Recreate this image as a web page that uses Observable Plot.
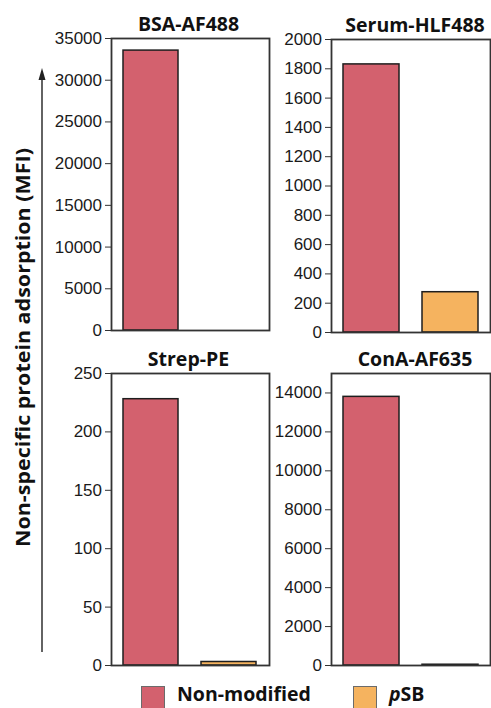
<!DOCTYPE html>
<html>
<head>
<meta charset="utf-8">
<script src="https://cdn.jsdelivr.net/npm/d3@7"></script>
<script src="https://cdn.jsdelivr.net/npm/@observablehq/plot@0.6"></script>
<style>
  html, body { margin: 0; padding: 0; background: #fff; }
  #chart { position: relative; width: 491px; height: 708px; overflow: hidden; background: #fff; }
  .panel { position: absolute; }
  .legend { position: absolute; font-family: "Open Sans", sans-serif; font-weight: 700; font-size: 19.5px; color: #111; white-space: nowrap; }
  .swatch { position: absolute; width: 24px; height: 24px; box-sizing: border-box; border: 1.5px solid #6b6b6b; }
</style>
</head>
<body>
<div id="chart"></div>
<script>
// Surfaces compared in each panel
const surfaces = ["Non-modified", "pSB"];
const surfaceColors = ["#d3616e", "#f5b35f"];

// Proteins (one panel each) and mean fluorescence intensity per surface
const proteins = ["BSA-AF488", "Serum-HLF488", "Strep-PE", "ConA-AF635"];
const nonModified = [33550, 1830, 228, 13800];
const pSB = [0, 275, 3, 40];

// Y axis extents and tick labels per panel
const yMax = [35000, 2000, 250, 15000];
const yTicks = [
  [0, 5000, 10000, 15000, 20000, 25000, 30000, 35000],
  [0, 200, 400, 600, 800, 1000, 1200, 1400, 1600, 1800, 2000],
  [0, 50, 100, 150, 200, 250],
  [0, 2000, 4000, 6000, 8000, 10000, 12000, 14000]
];

const chart = document.getElementById("chart");

// Panel placement: plot-area box in page pixels, title nudge
const layout = [
  {left: 111, right: 269, top: 38, bottom: 330, dx: -2},
  {left: 331, right: 490, top: 39, bottom: 332, dx: 4},
  {left: 111, right: 269, top: 373, bottom: 665, dx: -2},
  {left: 331, right: 490, top: 373, bottom: 665, dx: 4}
];

const mL = 70, mR = 1, mT = 40, mB = 6;

proteins.forEach((protein, i) => {
  const box = layout[i];
  const rows = surfaces.map((s, j) => ({surface: s, value: j === 0 ? nonModified[i] : pSB[i]}));
  const plot = Plot.plot({
    width: mL + (box.right - box.left) + mR,
    height: mT + (box.bottom - box.top) + mB,
    marginLeft: mL, marginRight: mR, marginTop: mT, marginBottom: mB,
    style: {background: "transparent", overflow: "visible"},
    x: {type: "band", domain: surfaces, paddingInner: 0.29, paddingOuter: 0.15, axis: null},
    y: {domain: [0, yMax[i]], axis: null},
    color: {domain: surfaces, range: surfaceColors},
    marks: [
      Plot.barY(rows, {x: "surface", y: "value", fill: "surface", stroke: "#1e1e1e", strokeWidth: 1.5}),
      Plot.axisY({
        ticks: yTicks[i], tickSize: 6, tickPadding: 3.5, tickFormat: d => String(d), label: null,
        stroke: "#333", fill: "#1a1a1a",
        fontFamily: "'Liberation Sans Narrow', 'Arial Narrow', sans-serif", fontSize: 17
      }),
      Plot.frame({stroke: "#333", strokeWidth: 1.8}),
      Plot.text([protein], {
        frameAnchor: "top", dy: -8, dx: box.dx, lineAnchor: "bottom", text: d => d,
        fontFamily: "'Open Sans', sans-serif", fontWeight: 700, fontSize: 19.5, fill: "#111"
      })
    ]
  });
  const wrap = document.createElement("div");
  wrap.className = "panel";
  wrap.style.left = (box.left - mL) + "px";
  wrap.style.top = (box.top - mT) + "px";
  wrap.appendChild(plot);
  chart.appendChild(wrap);
});

// Shared y-axis title with upward arrow
const ns = "http://www.w3.org/2000/svg";
const side = document.createElementNS(ns, "svg");
side.setAttribute("width", 60);
side.setAttribute("height", 708);
side.style.position = "absolute";
side.style.left = "0px";
side.style.top = "0px";
side.innerHTML = `
  <text transform="translate(29.5,347.5) rotate(-90)" text-anchor="middle" textLength="399" lengthAdjust="spacingAndGlyphs"
        font-family="'Open Sans', sans-serif" font-weight="700" font-size="19.5" fill="#111">Non-specific protein adsorption (MFI)</text>
  <line x1="42" x2="42" y1="652" y2="76" stroke="#222" stroke-width="1.4"></line>
  <polygon points="42,68 38.5,80 45.5,80" fill="#222"></polygon>`;
chart.appendChild(side);

// Legend
const legendItems = [
  {x: 141, label: "Non-modified"},
  {x: 353, label: "<i>p</i>SB"}
];
legendItems.forEach((item, j) => {
  const sw = document.createElement("div");
  sw.className = "swatch";
  sw.style.left = item.x + "px";
  sw.style.top = "686px";
  sw.style.background = surfaceColors[j];
  chart.appendChild(sw);
  const lab = document.createElement("div");
  lab.className = "legend";
  lab.style.left = (item.x + 36) + "px";
  lab.style.top = "680px";
  lab.innerHTML = item.label;
  chart.appendChild(lab);
});
</script>
</body>
</html>
